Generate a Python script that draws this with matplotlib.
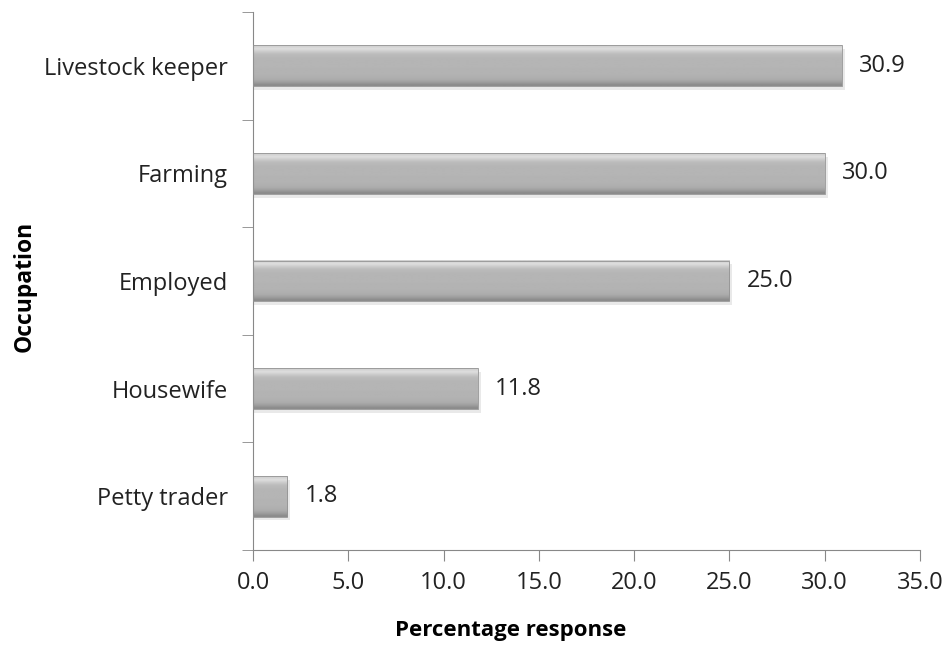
import numpy as np
import matplotlib.pyplot as plt

occupations = ["Petty trader", "Housewife", "Employed", "Farming", "Livestock keeper"]
percentages = [1.8, 11.8, 25.0, 30.0, 30.9]
x_ticks = [0.0, 5.0, 10.0, 15.0, 20.0, 25.0, 30.0, 35.0]

plt.rcParams["font.family"] = ["Open Sans", "DejaVu Sans"]

fig = plt.figure(figsize=(9.49, 6.51), dpi=100)
ax = fig.add_axes([0.2666, 0.155, 0.7028, 0.8266])

bar_h = 0.38
ypos = np.arange(len(occupations))

# vertical shading for the bevelled look: light top edge, flat middle, dark bottom
shade = np.array([0.82, 0.87, 0.80, 0.74, 0.72, 0.71, 0.71, 0.71, 0.71, 0.70,
                  0.70, 0.70, 0.69, 0.67, 0.62, 0.55]).reshape(-1, 1)

for y, v in zip(ypos, percentages):
    # soft drop shadow under the bar
    ax.barh(y - 0.035, v + 0.15, height=bar_h, left=0, color="#e0e0e0",
            alpha=0.7, zorder=1, linewidth=0)
    ax.imshow(shade, cmap="gray", vmin=0, vmax=1, aspect="auto",
              extent=(0, v, y - bar_h / 2, y + bar_h / 2), zorder=2,
              interpolation="bilinear")
    ax.barh(y, v, height=bar_h, left=0, facecolor="none",
            edgecolor="#939393", linewidth=0.6, zorder=3)
    ax.text(v + 0.9, y, f"{v:.1f}", va="center", ha="left",
            fontsize=17, color="#222222")

ax.set_xlim(0, 35)
ax.set_ylim(-0.5, len(occupations) - 0.5)
ax.set_xticks(x_ticks)
ax.set_xticklabels([f"{t:.1f}" for t in x_ticks], fontsize=17, color="#222222")

ax.set_yticks(ypos)
ax.set_yticklabels(occupations, fontsize=17, color="#222222")
ax.tick_params(axis="y", length=0, pad=18)
ax.set_yticks(np.arange(-0.5, len(occupations), 1.0), minor=True)
ax.tick_params(axis="y", which="minor", length=8, color="#888888")
ax.tick_params(axis="x", length=8, color="#888888", pad=7)

for side in ["top", "right"]:
    ax.spines[side].set_visible(False)
for side in ["left", "bottom"]:
    ax.spines[side].set_color("#888888")

ax.set_xlabel("Percentage response", fontsize=16, fontweight="bold")
ax.xaxis.set_label_coords(0.387, -0.13)
ax.set_ylabel("Occupation", fontsize=16.5, fontweight="bold")
ax.yaxis.set_label_coords(-0.325, 0.49)

fig.savefig("out.png", dpi=100)
